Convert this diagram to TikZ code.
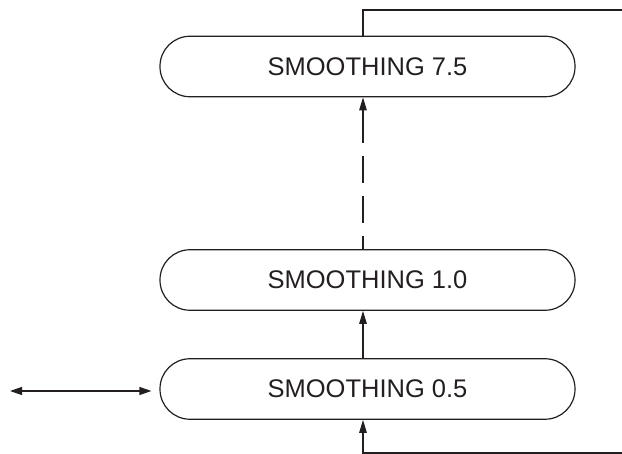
\documentclass[tikz,border=0pt]{standalone}
\usepackage{fontspec}
\setmainfont{Liberation Sans}
\usetikzlibrary{arrows.meta}
\definecolor{ink}{RGB}{35,31,32}
\begin{document}
\begin{tikzpicture}[x=1pt,y=-1pt,
  stage/.style={draw=ink, line width=1.2pt, rectangle, rounded corners=30pt,
    minimum width=415pt, minimum height=60.5pt, inner sep=0pt,
    font=\fontsize{25.5}{30}\selectfont, text=ink},
  conn/.style={draw=ink, line width=1.2pt},
  tip/.style={-{Triangle[length=13pt,width=7.5pt]}},
  dtip/.style={{Triangle[length=12pt,width=8pt]}-{Triangle[length=12pt,width=8pt]}}]
\useasboundingbox (0,0) rectangle (622,454);
\node[stage] (top) at (367.5,66.5) {SMOOTHING 7.5};
\node[stage] (mid) at (367.5,280) {SMOOTHING 1.0};
\node[stage] (bot) at (367.5,389) {SMOOTHING 0.5};
\coordinate (ft) at (363,10);
\coordinate (fr) at (623,10);
\coordinate (fb) at (363,453);
\coordinate (fbr) at (623,453);
\coordinate (la) at (10,391);
\draw[conn] (top.north -| ft) -- (ft) -- (fr);
\draw[conn, tip] (fbr) -- (fb) -- (bot.south -| fb);
\draw[conn, tip] (bot.north -| fb) -- (mid.south -| fb);
\draw[conn, {Triangle[length=13pt,width=7.5pt]}-, dash pattern=on 33pt off 13pt on 27pt off 13pt on 27pt off 13pt on 40pt] (top.south -| fb) -- (mid.north -| fb);
\draw[conn, dtip, shorten >=8pt] (la) -- (bot.west |- la);
\end{tikzpicture}
\end{document}
